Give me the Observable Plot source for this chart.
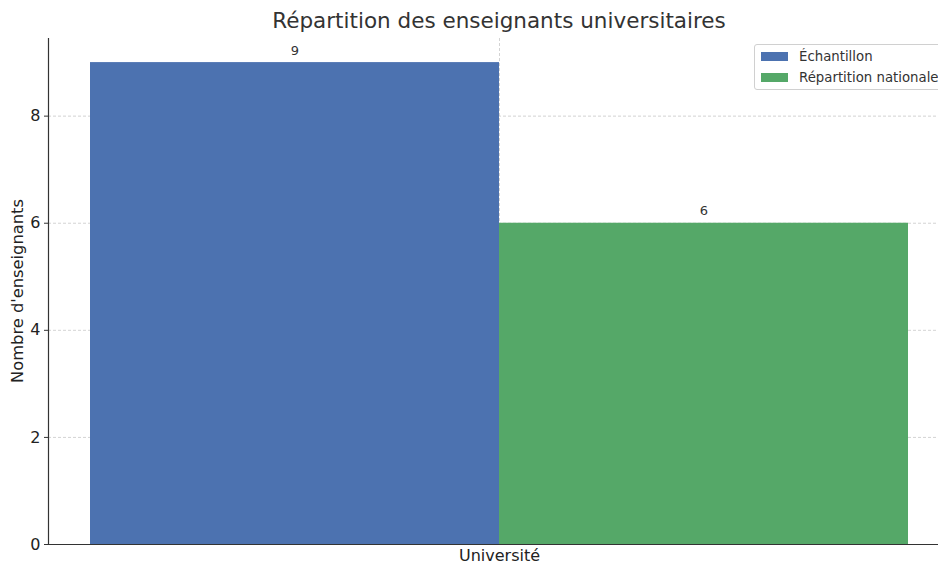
<!DOCTYPE html>
<html>
<head>
<meta charset="utf-8">
<script src="https://cdn.jsdelivr.net/npm/d3@7"></script>
<script src="https://cdn.jsdelivr.net/npm/@observablehq/plot@0.6"></script>
<style>
  html, body { margin: 0; padding: 0; background: #fff; }
  #wrap { position: relative; width: 938px; height: 564px; overflow: hidden; font-family: "DejaVu Sans", sans-serif; }
  #title { position: absolute; left: 48px; width: 902px; top: 0; height: 38px; line-height: 42px; text-align: center; font-size: 21.5px; color: #333; }
  #chart { position: absolute; left: 0; top: 38px; }
  #legend { position: absolute; left: 754px; top: 44px; width: 210px; height: 44px; border: 1px solid #d0d0d0; border-radius: 3px; background: #fff; font-size: 13.3px; color: #333; }
  .row { position: absolute; left: 6px; height: 16px; display: flex; align-items: center; }
  .sw { width: 27px; height: 9px; margin-right: 11px; }
</style>
</head>
<body>
<div id="wrap">
  <div id="title">Répartition des enseignants universitaires</div>
  <div id="chart"></div>
  <div id="legend"></div>
</div>
<script>
const categories = ["Université"];
const series = ["Échantillon", "Répartition nationale"];
const values = [9, 6];
const colors = ["#4C72B0", "#55A868"];
const yTicks = [0, 2, 4, 6, 8];
const yLabel = "Nombre d'enseignants";

const data = series.map((s, i) => ({category: categories[0], series: s, value: values[i]}));

const chart = Plot.plot({
  width: 938,
  height: 526,
  marginLeft: 48,
  marginRight: -12,
  marginTop: 0,
  marginBottom: 20,
  style: {fontFamily: "DejaVu Sans, sans-serif", fontSize: "16px", color: "#222", background: "#fff", overflow: "hidden"},
  fx: {domain: categories, padding: 0},
  x: {domain: series, paddingInner: 0, paddingOuter: 0.1, axis: null},
  y: {domain: [0, 9.45]},
  color: {domain: series, range: colors},
  marks: [
    Plot.gridY(yTicks, {stroke: "#b0b0b0", strokeOpacity: 0.7, strokeDasharray: "3,2", strokeWidth: 0.8}),
    Plot.gridFx({stroke: "#b0b0b0", strokeOpacity: 0.7, strokeDasharray: "3,2", strokeWidth: 0.8}),
    Plot.barY(data, {fx: "category", x: "series", y: "value", fill: "series", inset: 0}),
    Plot.text(data, {fx: "category", x: "series", y: "value", text: d => String(d.value), dy: -12, fill: "#333", fontSize: 13}),
    Plot.axisY(yTicks, {tickSize: 4, tickPadding: 4, stroke: "#333", fill: "#222", fontSize: 16, label: null, tickFormat: d3.format("d")}),
    Plot.axisFx({anchor: "bottom", tickSize: 0, tickPadding: 5, label: null, fontSize: 16, fill: "#222"}),
    Plot.ruleY([0], {stroke: "#333", strokeWidth: 1.2}),
    Plot.frame({anchor: "left", stroke: "#333", strokeWidth: 1.2})
  ]
});
document.getElementById("chart").appendChild(chart);

// y axis label
const svg = d3.select(chart);
svg.append("text")
  .attr("transform", "translate(18," + ((526 - 20) / 2) + ") rotate(-90)")
  .attr("text-anchor", "middle")
  .attr("dominant-baseline", "middle")
  .attr("font-size", 16.3)
  .attr("fill", "#222")
  .text(yLabel);

// legend
const legend = document.getElementById("legend");
series.forEach((s, i) => {
  const row = document.createElement("div");
  row.className = "row";
  row.style.top = (3 + i * 21) + "px";
  const sw = document.createElement("div");
  sw.className = "sw";
  sw.style.background = colors[i];
  const lab = document.createElement("span");
  lab.textContent = s;
  row.appendChild(sw);
  row.appendChild(lab);
  legend.appendChild(row);
});
</script>
</body>
</html>
